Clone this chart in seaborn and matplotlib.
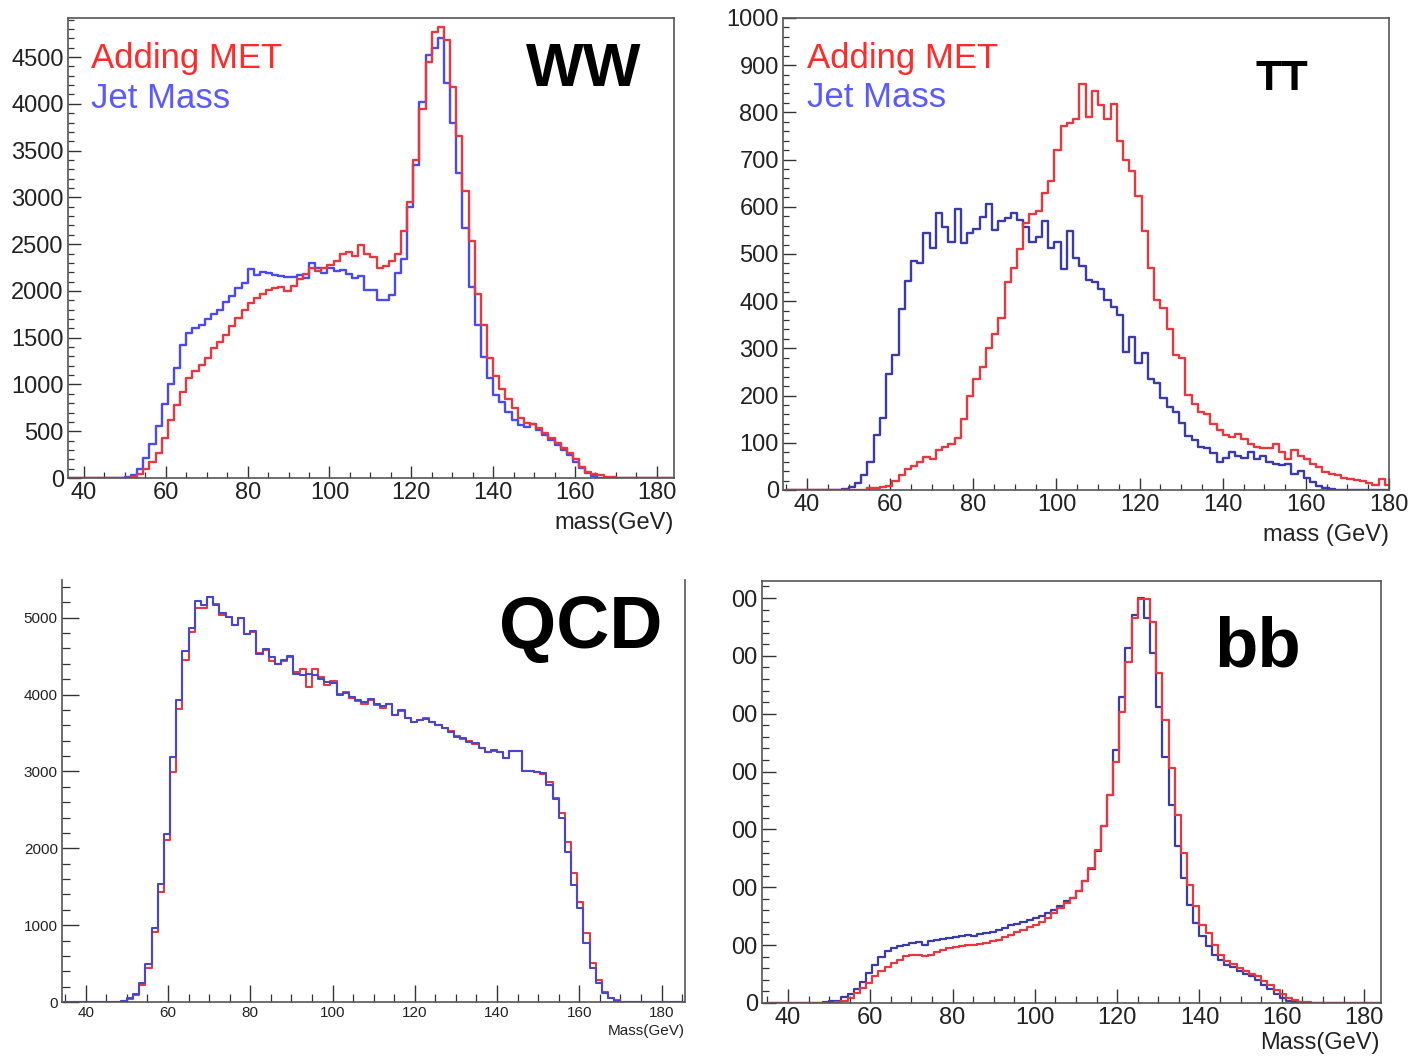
import numpy as np
import pandas as pd
import matplotlib
matplotlib.use("Agg")
import matplotlib.pyplot as plt
import seaborn as sns
from matplotlib.ticker import MultipleLocator, FuncFormatter

# ---------------- data (bin width 1.5 GeV, histogram range 35-185 GeV) ----------------
BIN_W = 1.5
HIST_LO, HIST_HI = 35.0, 185.0

# WW : first listed bin starts at 50.0 GeV
ww_start = 50.0
ww_jet = [10, 30, 100, 210, 360, 560, 790, 1000, 1180, 1420, 1550, 1600, 1640, 1700, 1750,
          1800, 1880, 1950, 2030, 2090, 2230, 2170, 2200, 2190, 2170, 2155, 2145, 2145, 2175,
          2140, 2300, 2240, 2190, 2250, 2215, 2220, 2180, 2135, 2165, 2010, 2010, 1900, 1900,
          1960, 2190, 2340, 2900, 3346, 4023, 4520, 4600, 4700, 4220, 3791, 3257, 2669, 2045,
          1635, 1297, 1065, 887, 816, 709, 620, 567, 549, 577, 513, 460, 406, 353, 299, 246,
          175, 103, 50, 20, 0, 0, 0]
ww_met = [0, 10, 40, 100, 175, 270, 430, 620, 780, 920, 1070, 1140, 1210, 1280, 1390, 1450,
          1530, 1620, 1710, 1800, 1870, 1920, 1965, 2005, 2030, 2040, 2000, 2055, 2130, 2185,
          2240, 2210, 2250, 2280, 2320, 2390, 2420, 2370, 2490, 2400, 2360, 2240, 2270, 2320,
          2400, 2644, 2954, 3399, 3941, 4450, 4771, 4817, 4682, 4183, 3656, 3071, 2537, 1967,
          1635, 1279, 1090, 948, 841, 745, 638, 584, 577, 531, 477, 424, 371, 317, 264, 200,
          121, 68, 43, 28, 15, 8]

# TT : first listed bin starts at 48.5 GeV
tt_start = 48.5
tt_jet = [3, 6, 14, 31, 59, 116, 153, 245, 286, 383, 442, 486, 481, 544, 512, 587, 558, 526,
          596, 523, 544, 553, 578, 606, 551, 569, 576, 587, 573, 558, 525, 537, 569, 512, 526,
          468, 548, 491, 475, 445, 440, 425, 403, 387, 371, 293, 325, 270, 290, 236, 226, 194,
          176, 165, 141, 115, 105, 92, 88, 78, 60, 68, 80, 71, 68, 80, 66, 71, 60, 54, 52, 56,
          34, 40, 26, 16, 8, 5, 3]
tt_met = [0, 0, 0, 0, 5, 5, 6, 8, 20, 32, 44, 50, 60, 70, 66, 85, 92, 98, 110, 150, 200, 235,
          260, 300, 330, 365, 440, 470, 510, 565, 585, 590, 630, 655, 720, 771, 778, 785, 860,
          790, 845, 815, 785, 817, 739, 700, 675, 622, 548, 470, 403, 385, 340, 286, 280, 201,
          183, 165, 160, 140, 128, 116, 112, 119, 108, 98, 92, 90, 88, 98, 80, 66, 84, 72, 65,
          55, 48, 38, 34, 31, 26, 24, 22, 20, 14, 11, 24, 10]

# QCD : first listed bin starts at 48.5 GeV
qcd_start = 48.5
qcd_jet = [13, 48, 100, 243, 490, 958, 1530, 2180, 3190, 3928, 4565, 4868, 5215, 5172, 5271,
           5172, 5055, 5011, 4903, 4998, 4782, 4825, 4534, 4591, 4491, 4404, 4448, 4504, 4274,
           4253, 4274, 4253, 4201, 4166, 4153, 4001, 4027, 3971, 3928, 3906, 3940, 3884, 3854,
           3884, 3732, 3797, 3689, 3646, 3667, 3680, 3646, 3602, 3559, 3516, 3451, 3429, 3386,
           3364, 3299, 3247, 3277, 3256, 3169, 3264, 3269, 3004, 3004, 2996, 2974, 2822, 2640,
           2389, 1955, 1522, 1218, 763, 438, 243, 113, 48, 13]
qcd_met = [10, 40, 90, 220, 438, 915, 1435, 2107, 2996, 3810, 4448, 4816, 5130, 5130, 5271,
           5180, 5040, 5011, 4903, 4990, 4790, 4820, 4540, 4580, 4435, 4400, 4440, 4490, 4300,
           4330, 4100, 4330, 4230, 4120, 4180, 4010, 4030, 3960, 3920, 3880, 3930, 3862, 3830,
           3880, 3740, 3790, 3700, 3640, 3670, 3690, 3640, 3610, 3570, 3520, 3455, 3420, 3390,
           3360, 3305, 3250, 3270, 3250, 3170, 3270, 3270, 3004, 3000, 2996, 2970, 2860, 2660,
           2454, 2085, 1673, 1305, 893, 503, 286, 134, 56, 22]

# bb : first listed bin starts at 48.5 GeV (y axis in the source's own, cropped units)
bb_start = 48.5
bb_jet = [10, 29, 40, 98, 155, 242, 363, 518, 662, 789, 892, 950, 979, 1007, 1036, 1054, 1007,
          1077, 1094, 1111, 1123, 1134, 1151, 1169, 1151, 1192, 1209, 1226, 1267, 1295, 1341,
          1364, 1399, 1428, 1468, 1508, 1549, 1612, 1670, 1756, 1813, 1929, 2101, 2320, 2619,
          3051, 3587, 4375, 5296, 6131, 6707, 6995, 6649, 6045, 5124, 4260, 3425, 2706, 2159,
          1698, 1382, 1151, 979, 835, 748, 662, 616, 547, 501, 461, 403, 317, 248, 155, 86, 40,
          15, 5, 0, 0]
bb_met = [0, 0, 10, 29, 86, 167, 259, 345, 461, 547, 616, 691, 748, 806, 823, 823, 806, 835,
          881, 915, 950, 973, 990, 1002, 1007, 1019, 1036, 1065, 1094, 1140, 1180, 1220, 1261,
          1307, 1353, 1399, 1468, 1549, 1635, 1721, 1813, 1929, 2101, 2332, 2648, 3051, 3587,
          4174, 5037, 5901, 6649, 6984, 6984, 6592, 5700, 4893, 4059, 3253, 2591, 2044, 1670,
          1353, 1209, 1007, 835, 731, 673, 604, 547, 501, 461, 374, 317, 230, 155, 86, 45, 20,
          10, 5]

legend_labels = ["Adding MET", "Jet Mass"]
panel_titles = ["WW", "TT", "QCD", "bb"]
xlabels = ["mass(GeV)", "mass (GeV)", "Mass(GeV)", "Mass(GeV)"]

# ---------------- style ----------------
sns.set_style("ticks")
plt.rcParams["font.family"] = ["Liberation Sans", "DejaVu Sans"]
plt.rcParams["xtick.direction"] = "in"
plt.rcParams["ytick.direction"] = "in"

RED = "#e8383f"
BLUE_LIGHT = "#4a4af0"
BLUE_DARK = "#3a3aa8"
TXT_RED = "#ff2a2a"
TXT_BLUE = "#5a5aff"


def hist_frame(start, vals):
    n_total = int(round((HIST_HI - HIST_LO) / BIN_W))
    n_lead = int(round((start - HIST_LO) / BIN_W))
    v = [0.0] * n_lead + [float(x) for x in vals]
    v = (v + [0.0] * n_total)[:n_total]
    edges = HIST_LO + BIN_W * np.arange(n_total + 1)
    centers = edges[:-1] + BIN_W / 2
    return pd.DataFrame({"mass": centers, "count": v}), [float(x) for x in edges]


def draw(ax, start, series, colors, lw=1.6):
    for vals, col in zip(series, colors):
        df, edges = hist_frame(start, vals)
        sns.histplot(data=df, x="mass", weights="count", bins=edges, element="step",
                     fill=False, color=col, linewidth=lw, ax=ax)


def style_axes(ax, xlim, ylim, ymaj, ymin, fs, maj_len, min_len, spine_col="#555555"):
    ax.set_xlim(*xlim)
    ax.set_ylim(*ylim)
    ax.xaxis.set_major_locator(MultipleLocator(20))
    ax.xaxis.set_minor_locator(MultipleLocator(5))
    ax.yaxis.set_major_locator(MultipleLocator(ymaj))
    ax.yaxis.set_minor_locator(MultipleLocator(ymin))
    ax.tick_params(axis="both", which="major", length=maj_len, width=1.0,
                   labelsize=fs, colors="#333333", labelcolor="#222222", pad=3)
    ax.tick_params(axis="both", which="minor", length=min_len, width=0.9, colors="#333333")
    ax.set_xlabel("")
    ax.set_ylabel("")
    for s in ax.spines.values():
        s.set_color(spine_col)
        s.set_linewidth(1.2)


fig = plt.figure(figsize=(14.08, 10.56), dpi=100)
fig.patch.set_facecolor("white")

ax_ww = fig.add_axes([0.0483, 0.5473, 0.4304, 0.4356])
ax_tt = fig.add_axes([0.5561, 0.5360, 0.4304, 0.4470])
ax_qcd = fig.add_axes([0.0440, 0.0511, 0.4425, 0.3996])
ax_bb = fig.add_axes([0.5412, 0.0502, 0.4396, 0.3996])

# WW
draw(ax_ww, ww_start, [ww_jet, ww_met], [BLUE_LIGHT, RED], lw=1.7)
style_axes(ax_ww, (36.1, 184.2), (0, 4917), 500, 100, 17, 9, 4.5)

# TT
draw(ax_tt, tt_start, [tt_jet, tt_met], [BLUE_DARK, RED], lw=1.7)
style_axes(ax_tt, (34.2, 180.0), (0, 1000), 100, 20, 17, 9, 4.5)

# QCD
draw(ax_qcd, qcd_start, [qcd_met, qcd_jet], [RED, "#4747c8"], lw=1.5)
style_axes(ax_qcd, (34.2, 185.7), (0, 5490), 1000, 200, 11, 12, 6)
ax_qcd.spines["top"].set_visible(False)

# bb
draw(ax_bb, bb_start, [bb_jet, bb_met], [BLUE_DARK, RED], lw=1.6)
style_axes(ax_bb, (33.7, 184.1), (0, 7294), 1000, 200, 17, 10, 5)
ax_bb.yaxis.set_major_formatter(FuncFormatter(lambda v, p: "0" if abs(v) < 1e-9 else "00"))

# legend-like coloured texts
for ax, x0, y1, y2 in [(ax_ww, 0.038, 0.913, 0.826), (ax_tt, 0.040, 0.915, 0.831)]:
    ax.text(x0, y1, legend_labels[0], color=TXT_RED, fontsize=25,
            transform=ax.transAxes, ha="left", va="center")
    ax.text(x0, y2, legend_labels[1], color=TXT_BLUE, fontsize=25,
            transform=ax.transAxes, ha="left", va="center")

# panel titles
ax_ww.text(0.851, 0.885, panel_titles[0], fontsize=44, fontweight="bold", color="black",
           transform=ax_ww.transAxes, ha="center", va="center")
ax_tt.text(0.823, 0.871, panel_titles[1], fontsize=31, fontweight="bold", color="black",
           transform=ax_tt.transAxes, ha="center", va="center")
ax_qcd.text(0.833, 0.886, panel_titles[2], fontsize=53, fontweight="bold", color="black",
            transform=ax_qcd.transAxes, ha="center", va="center")
ax_bb.text(0.801, 0.841, panel_titles[3], fontsize=51, fontweight="bold", color="black",
           transform=ax_bb.transAxes, ha="center", va="center")

# axis titles (right aligned, under tick labels)
ax_ww.text(1.0, -0.098, xlabels[0], fontsize=17, color="#222222",
           transform=ax_ww.transAxes, ha="right", va="center")
ax_tt.text(1.0, -0.095, xlabels[1], fontsize=17, color="#222222",
           transform=ax_tt.transAxes, ha="right", va="center")
ax_qcd.text(1.0, -0.069, xlabels[2], fontsize=11, color="#222222",
            transform=ax_qcd.transAxes, ha="right", va="center")
ax_bb.text(0.998, -0.095, xlabels[3], fontsize=17, color="#222222",
           transform=ax_bb.transAxes, ha="right", va="center")

fig.savefig("out.png", dpi=100, facecolor="white")
